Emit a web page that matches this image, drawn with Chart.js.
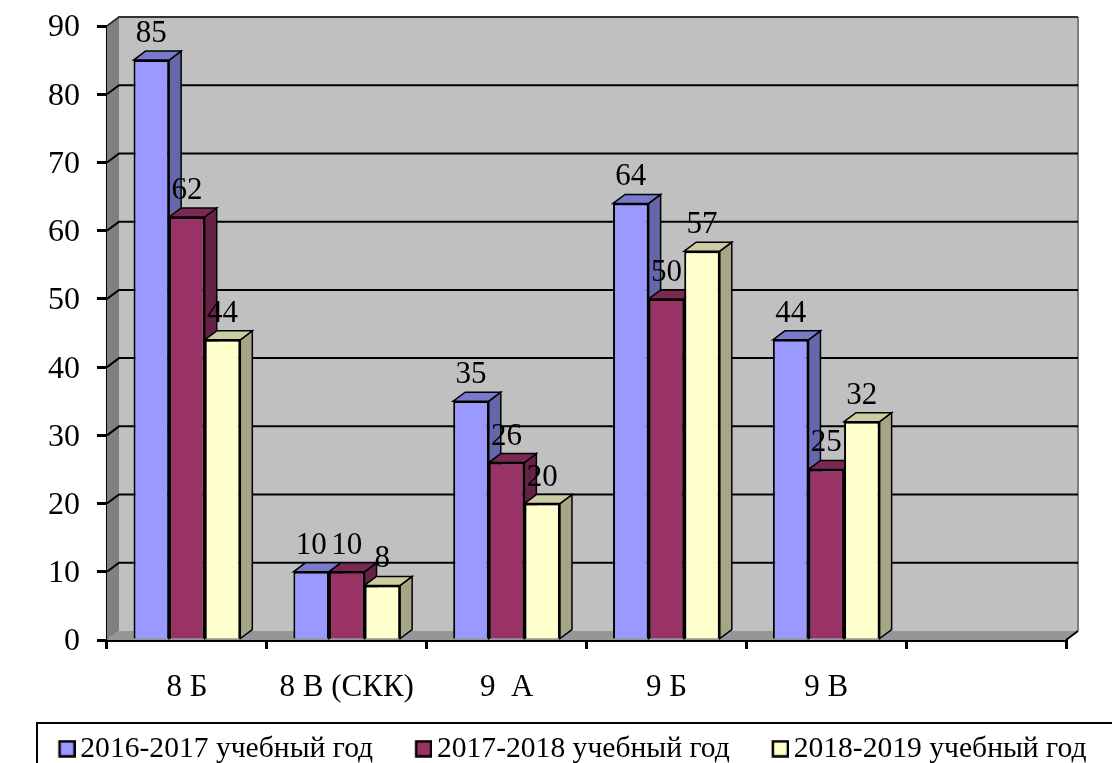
<!DOCTYPE html>
<html><head><meta charset="utf-8">
<style>html,body{margin:0;padding:0;background:#fff}canvas{display:block}</style>
<script src="https://cdn.jsdelivr.net/npm/chart.js@4"></script>
</head><body><canvas id="c" width="1112" height="763"></canvas>
<script>
const categories = ['8 Б','8 В (СКК)','9  А','9 Б','9 В',''];
const series2016 = [85,10,35,64,44,null];
const series2017 = [62,10,26,50,25,null];
const series2018 = [44,8,20,57,32,null];
const seriesNames = ['2016-2017 учебный год','2017-2018 учебный год','2018-2019 учебный год'];
const yTicks = {min:0,max:90,step:10};

const colors = ['#9999FF','#993366','#FFFFCC'];
const sideColors = ['#6666AA','#662244','#A6A686'];
const topColors = ['#7A7ACC','#7A2952','#CCCCA3'];
const FONT = '"Liberation Serif","Times New Roman",serif';
const DX = 12, DY = -9;
const KEY_GAP = 48;

function legendKey(color){
  const c = document.createElement('canvas');
  c.width = KEY_GAP + 20; c.height = 18;
  const g = c.getContext('2d');
  g.fillStyle = color; g.strokeStyle = '#000'; g.lineWidth = 2.5;
  g.fillRect(c.width-16,1.5,15,15); g.strokeRect(c.width-16,1.5,15,15);
  return c;
}
const keys = colors.map(legendKey);

function poly(ctx, pts, fill, stroke, lw){
  ctx.beginPath();
  pts.forEach((p,i)=> i?ctx.lineTo(p[0],p[1]):ctx.moveTo(p[0],p[1]));
  ctx.closePath();
  if(fill){ctx.fillStyle=fill;ctx.fill();}
  if(stroke){ctx.strokeStyle=stroke;ctx.lineWidth=lw||1;ctx.stroke();}
}

const walls = {
  id:'walls',
  afterLayout(chart){
    const l = chart.legend;
    if(!l) return;
    const h = l.bottom - l.top, w = l.right - l.left;
    l.left = -4; l.right = -4 + w;
    l.top = 733; l.bottom = 733 + h;
  },
  beforeDatasetsDraw(chart){
    const {ctx,chartArea:a,scales:{y}} = chart;
    ctx.save();
    poly(ctx,[[a.left+DX,a.top+DY],[a.right+DX,a.top+DY],[a.right+DX,a.bottom+DY],[a.left+DX,a.bottom+DY]],'#C0C0C0');
    poly(ctx,[[a.left,a.top],[a.left+DX,a.top+DY],[a.left+DX,a.bottom+DY],[a.left,a.bottom]],'#808080');
    poly(ctx,[[a.left,a.bottom],[a.left+DX,a.bottom+DY],[a.right+DX,a.bottom+DY],[a.right,a.bottom]],'#969696');
    ctx.strokeStyle='#808080';ctx.lineWidth=2;
    ctx.beginPath();ctx.moveTo(a.right+DX,a.top+DY);ctx.lineTo(a.right+DX,a.bottom+DY);ctx.stroke();
    ctx.beginPath();ctx.moveTo(a.right+DX,a.bottom+DY);ctx.lineTo(a.right,a.bottom);ctx.strokeStyle='#000';ctx.lineWidth=2;ctx.stroke();
    ctx.strokeStyle='#000';ctx.lineWidth=2;
    y.ticks.forEach(t=>{
      if(t.value===0) return;
      const py=y.getPixelForValue(t.value);
      ctx.strokeStyle = t.value===yTicks.max ? '#333' : '#000';
      ctx.beginPath();ctx.moveTo(a.left,py);ctx.lineTo(a.left+DX,py+DY);ctx.lineTo(a.right+DX,py+DY);ctx.stroke();
    });
    chart.data.datasets.forEach((ds,i)=>{
      chart.getDatasetMeta(i).data.forEach((el,j)=>{
        if(ds.data[j]==null) return;
        const l=el.x-el.width/2,r=el.x+el.width/2,t=el.y,b=el.base;
        poly(ctx,[[r,t],[r+DX,t+DY],[r+DX,b+DY],[r,b]],sideColors[i],'#000',1.5);
        poly(ctx,[[l,t],[l+DX,t+DY],[r+DX,t+DY],[r,t]],topColors[i],'#000',1.5);
      });
    });
    ctx.restore();
  },
  afterDatasetsDraw(chart){
    const {ctx}=chart;
    ctx.save();
    ctx.fillStyle='#000';ctx.font='31px '+FONT;ctx.textAlign='center';ctx.textBaseline='alphabetic';
    chart.data.datasets.forEach((ds,i)=>{
      chart.getDatasetMeta(i).data.forEach((el,j)=>{
        if(ds.data[j]==null) return;
        ctx.fillText(String(ds.data[j]),el.x,el.y-18);
      });
    });
    ctx.restore();
  },
  afterDraw(chart){
    const {ctx,width,height}=chart;
    ctx.save();
    ctx.strokeStyle='#000';ctx.lineWidth=2;
    ctx.beginPath();ctx.moveTo(37,height+2);ctx.lineTo(37,723);ctx.lineTo(width+2,723);ctx.stroke();
    ctx.restore();
  }
};

const datasets = seriesNames.map((n,i)=>({
  label:n,
  data:[series2016,series2017,series2018][i],
  backgroundColor:colors[i],
  borderColor:'#000',
  borderWidth:2
}));

new Chart(document.getElementById('c'),{
  type:'bar',
  data:{labels:categories,datasets},
  plugins:[walls],
  options:{
    responsive:false,animation:false,
    layout:{padding:0},
    datasets:{bar:{barPercentage:1,categoryPercentage:0.668}},
    scales:{
      x:{
        grid:{drawOnChartArea:false,drawTicks:true,tickLength:9,color:'#000',lineWidth:3},
        border:{color:'#000',width:3},
        ticks:{color:'#000',font:{family:FONT,size:31},padding:20,maxRotation:0,autoSkip:false},
        afterFit(s){s.height=123-(s.chart.legend?s.chart.legend.height:40);s.paddingRight=46;s.paddingLeft=0;}
      },
      y:{
        min:yTicks.min,max:yTicks.max,
        grid:{drawOnChartArea:false,drawTicks:true,tickLength:10,color:'#000',lineWidth:3},
        border:{color:'#000',width:3},
        ticks:{stepSize:yTicks.step,color:'#000',font:{family:FONT,size:32},padding:17,labelOffset:2},
        afterFit(s){s.width=107;s.paddingTop=26;s.paddingBottom=0;}
      }
    },
    plugins:{
      tooltip:{enabled:false},
      legend:{
        display:true,position:'bottom',
        labels:{
          usePointStyle:true,pointStyleWidth:KEY_GAP,boxHeight:14,padding:1,color:'#000',
          font:{family:FONT,size:29.6},
          generateLabels(chart){
            return Chart.defaults.plugins.legend.labels.generateLabels(chart)
              .map((it,i)=>Object.assign(it,{pointStyle:keys[i]}));
          }
        }
      }
    }
  }
});
</script></body></html>
